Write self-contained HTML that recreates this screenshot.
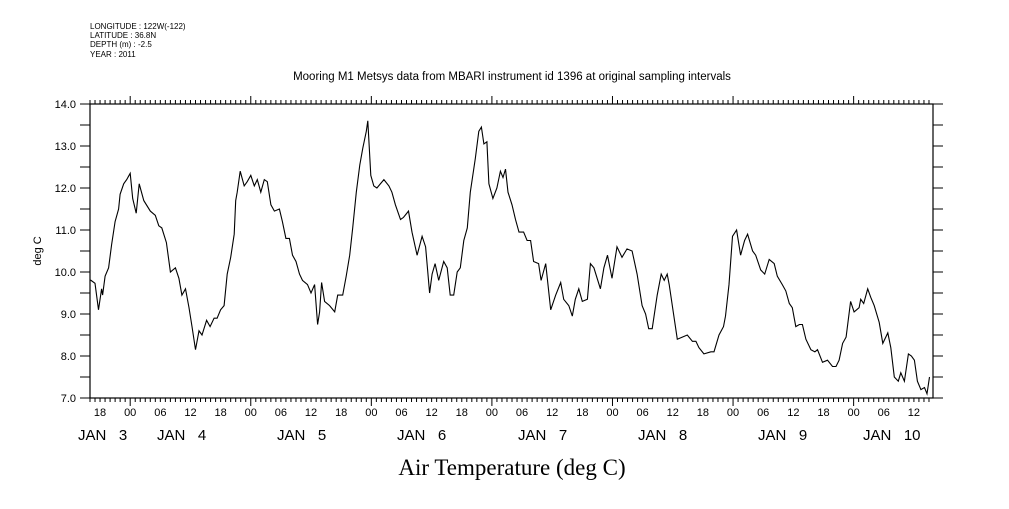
<!DOCTYPE html>
<html><head><meta charset="utf-8"><style>
body{margin:0;background:#fff;width:1009px;height:504px;overflow:hidden}
svg text{font-family:"Liberation Sans",sans-serif;fill:#000}
</style></head><body>
<svg id="chart" width="1009" height="504" viewBox="0 0 1009 504" xmlns="http://www.w3.org/2000/svg">
<g font-size="8">
<text x="90" y="29">LONGITUDE : 122W(-122)</text>
<text x="90" y="38">LATITUDE : 36.8N</text>
<text x="90" y="47">DEPTH (m) : -2.5</text>
<text x="90" y="57">YEAR : 2011</text>
</g>
<text x="512" y="80" text-anchor="middle" font-size="11.5">Mooring M1 Metsys data from MBARI instrument id 1396 at original sampling intervals</text>
<text transform="translate(41,251) rotate(-90)" text-anchor="middle" font-size="11">deg C</text>
<text x="512" y="475" text-anchor="middle" font-size="23" style="font-family:'Liberation Serif',serif">Air Temperature (deg C)</text>
<rect x="90" y="104" width="843" height="294" fill="none" stroke="#000" stroke-width="1.2"/>
<g id="axes"></g>
<g id="series"></g>
</svg>
<script>
const hours=[-7.9,-7,-6.3,-5.7,-5.5,-5,-4.3,-3.7,-3,-2.3,-2,-1.3,-0.7,0,0.5,1.2,1.8,2.7,4,5,5.7,6.3,7.2,8,9,9.7,10.3,11,11.7,12.3,13,13.7,14.3,15.2,15.9,16.7,17.3,18,18.7,19.3,20,20.7,21,21.3,21.9,22.7,23.3,24,24.7,25.3,26,26.7,27.3,28,28.7,29.7,30.3,31,31.7,32.3,33,33.7,34.3,35.3,36,36.7,37.3,37.7,38.1,38.7,39.7,40.7,41.3,42.3,43,43.7,44.3,45,45.7,46.3,47,47.3,47.9,48.5,49.1,50.5,51.5,52.1,52.8,53.8,54.4,55.4,56.1,57.1,58.1,58.8,59.6,60.1,60.7,61.4,62.4,63.1,63.7,64.4,65.1,65.7,66.4,67.1,67.7,68.7,69.4,69.9,70.4,71.0,71.4,72.2,73.0,73.7,74.2,74.7,75.2,76.0,76.7,77.4,78.3,79.0,79.7,80.3,81.3,81.8,82.7,83.7,84.7,85.7,86.3,87.3,88.0,88.6,89.3,90.0,91.0,91.6,92.3,93.6,94.3,95.0,95.9,96.9,97.9,98.9,99.9,100.9,101.9,102.6,103.2,103.9,104.9,105.7,106.3,106.9,107.3,107.9,108.9,109.9,110.9,111.9,112.6,113.2,114.2,115.6,116.2,117.2,118.1,118.5,119.2,119.9,120.7,121.5,122.3,122.9,123.9,124.5,125.5,126.3,127.2,128.2,128.8,129.8,130.5,131.2,131.8,132.5,133.2,133.8,134.5,135.5,136.3,136.8,137.8,138.8,139.8,140.5,141.1,141.8,142.5,143.4,144.1,145.1,145.4,146.0,146.8,147.4,148.1,149.1,149.8,150.8,151.4,152.1,152.9,153.4,154.1,154.9,155.5,156.1,156.7,157.4,158.1,158.6,159.1];
const temps=[9.81,9.73,9.1,9.6,9.45,9.9,10.1,10.65,11.2,11.5,11.85,12.1,12.2,12.35,11.75,11.4,12.1,11.7,11.45,11.35,11.1,11.05,10.7,10.0,10.1,9.85,9.45,9.6,9.15,8.7,8.15,8.6,8.5,8.85,8.7,8.9,8.9,9.1,9.2,9.95,10.35,10.9,11.7,11.9,12.4,12.05,12.15,12.3,12.05,12.2,11.9,12.2,12.15,11.6,11.45,11.5,11.2,10.8,10.8,10.4,10.25,9.95,9.8,9.7,9.5,9.7,8.75,9.05,9.75,9.3,9.2,9.05,9.45,9.45,9.9,10.4,11.05,11.9,12.55,12.95,13.35,13.6,12.3,12.05,12.0,12.2,12.05,11.9,11.6,11.25,11.3,11.45,10.95,10.4,10.85,10.6,9.5,9.95,10.2,9.8,10.25,10.1,9.45,9.45,10.0,10.1,10.75,11.05,11.9,12.7,13.35,13.45,13.05,13.1,12.1,11.75,12.0,12.4,12.25,12.45,11.9,11.6,11.25,10.95,10.95,10.75,10.75,10.25,10.2,9.8,10.2,9.1,9.45,9.75,9.35,9.2,8.95,9.35,9.6,9.3,9.35,10.2,10.1,9.6,10.1,10.4,9.85,10.6,10.35,10.55,10.5,9.95,9.2,9.0,8.65,8.65,9.45,9.95,9.8,9.95,9.7,9.2,8.4,8.45,8.5,8.35,8.35,8.2,8.05,8.1,8.1,8.5,8.7,8.95,9.7,10.85,11.0,10.4,10.75,10.9,10.5,10.4,10.05,9.95,10.3,10.2,9.9,9.7,9.55,9.25,9.15,8.7,8.75,8.75,8.4,8.15,8.1,8.15,7.85,7.9,7.75,7.75,7.9,8.3,8.45,9.3,9.05,9.15,9.35,9.25,9.6,9.4,9.2,8.8,8.3,8.55,8.2,7.5,7.4,7.6,7.4,8.05,8.0,7.9,7.4,7.2,7.25,7.1,7.5,7.85];
const yTicks=[7.0,7.5,8.0,8.5,9.0,9.5,10.0,10.5,11.0,11.5,12.0,12.5,13.0,13.5,14.0];
const yTickLabels=["7.0","8.0","9.0","10.0","11.0","12.0","13.0","14.0"];
const hourLabels=["18","00","06","12"];
const dayLabels=["JAN  3","JAN  4","JAN  5","JAN  6","JAN  7","JAN  8","JAN  9","JAN 10"];
const dayLabelX=[78,157,277,397,518,638,758,863];
const X0=90,X1=933,Y0=104,Y1=398,H0=-8,H1=159.8,V0=7,V1=14;
const NS="http://www.w3.org/2000/svg";
function xs(h){return X0+(h-H0)/(H1-H0)*(X1-X0);}
function ys(v){return Y1-(v-V0)/(V1-V0)*(Y1-Y0);}
function mk(tag,attrs,parent){const e=document.createElementNS(NS,tag);for(const k in attrs)e.setAttribute(k,attrs[k]);parent.appendChild(e);return e;}
const ax=document.getElementById('axes');
yTicks.forEach(v=>{
  const l=mk('line',{x1:80,x2:90,y1:ys(v),y2:ys(v),stroke:'#000'},ax);
  
  
  const r=mk('line',{x1:933,x2:943,y1:ys(v),y2:ys(v),stroke:'#000'},ax);
  
  
});
yTickLabels.forEach(s=>{
  const t=mk('text',{x:76,y:ys(parseFloat(s))+4,'text-anchor':'end','font-size':11},ax);
  t.textContent=s;
  
  
});
for(let h=Math.ceil(H0);h<=H1;h++){
  const major=((h%24)+24)%24===0;
  const len=major?8:4;
  const b=mk('line',{x1:xs(h),x2:xs(h),y1:398,y2:398+len,stroke:'#000'},ax);
  
  
  const t=mk('line',{x1:xs(h),x2:xs(h),y1:104,y2:104-len,stroke:'#000'},ax);
  
  
  if(((h%6)+6)%6===0){
    const idx=((((h/6)%4)+4+1)%4+4)%4;
    const lb=mk('text',{x:xs(h),y:416,'text-anchor':'middle','font-size':11},ax);
    lb.textContent=hourLabels[idx];
    
    
  }
}
dayLabels.forEach((s,i)=>{
  const t=mk('text',{x:dayLabelX[i],y:440,'font-size':15},ax);
  t.style.whiteSpace='pre';
  t.textContent=s.replace(/ +/,'   ');
  
  
});
const pts=hours.map((h,i)=>xs(h).toFixed(1)+','+ys(temps[i]).toFixed(1)).join(' ');
const pl=mk('polyline',{points:pts,fill:'none',stroke:'#000','stroke-width':1.1},document.getElementById('series'));


</script>
</body></html>
